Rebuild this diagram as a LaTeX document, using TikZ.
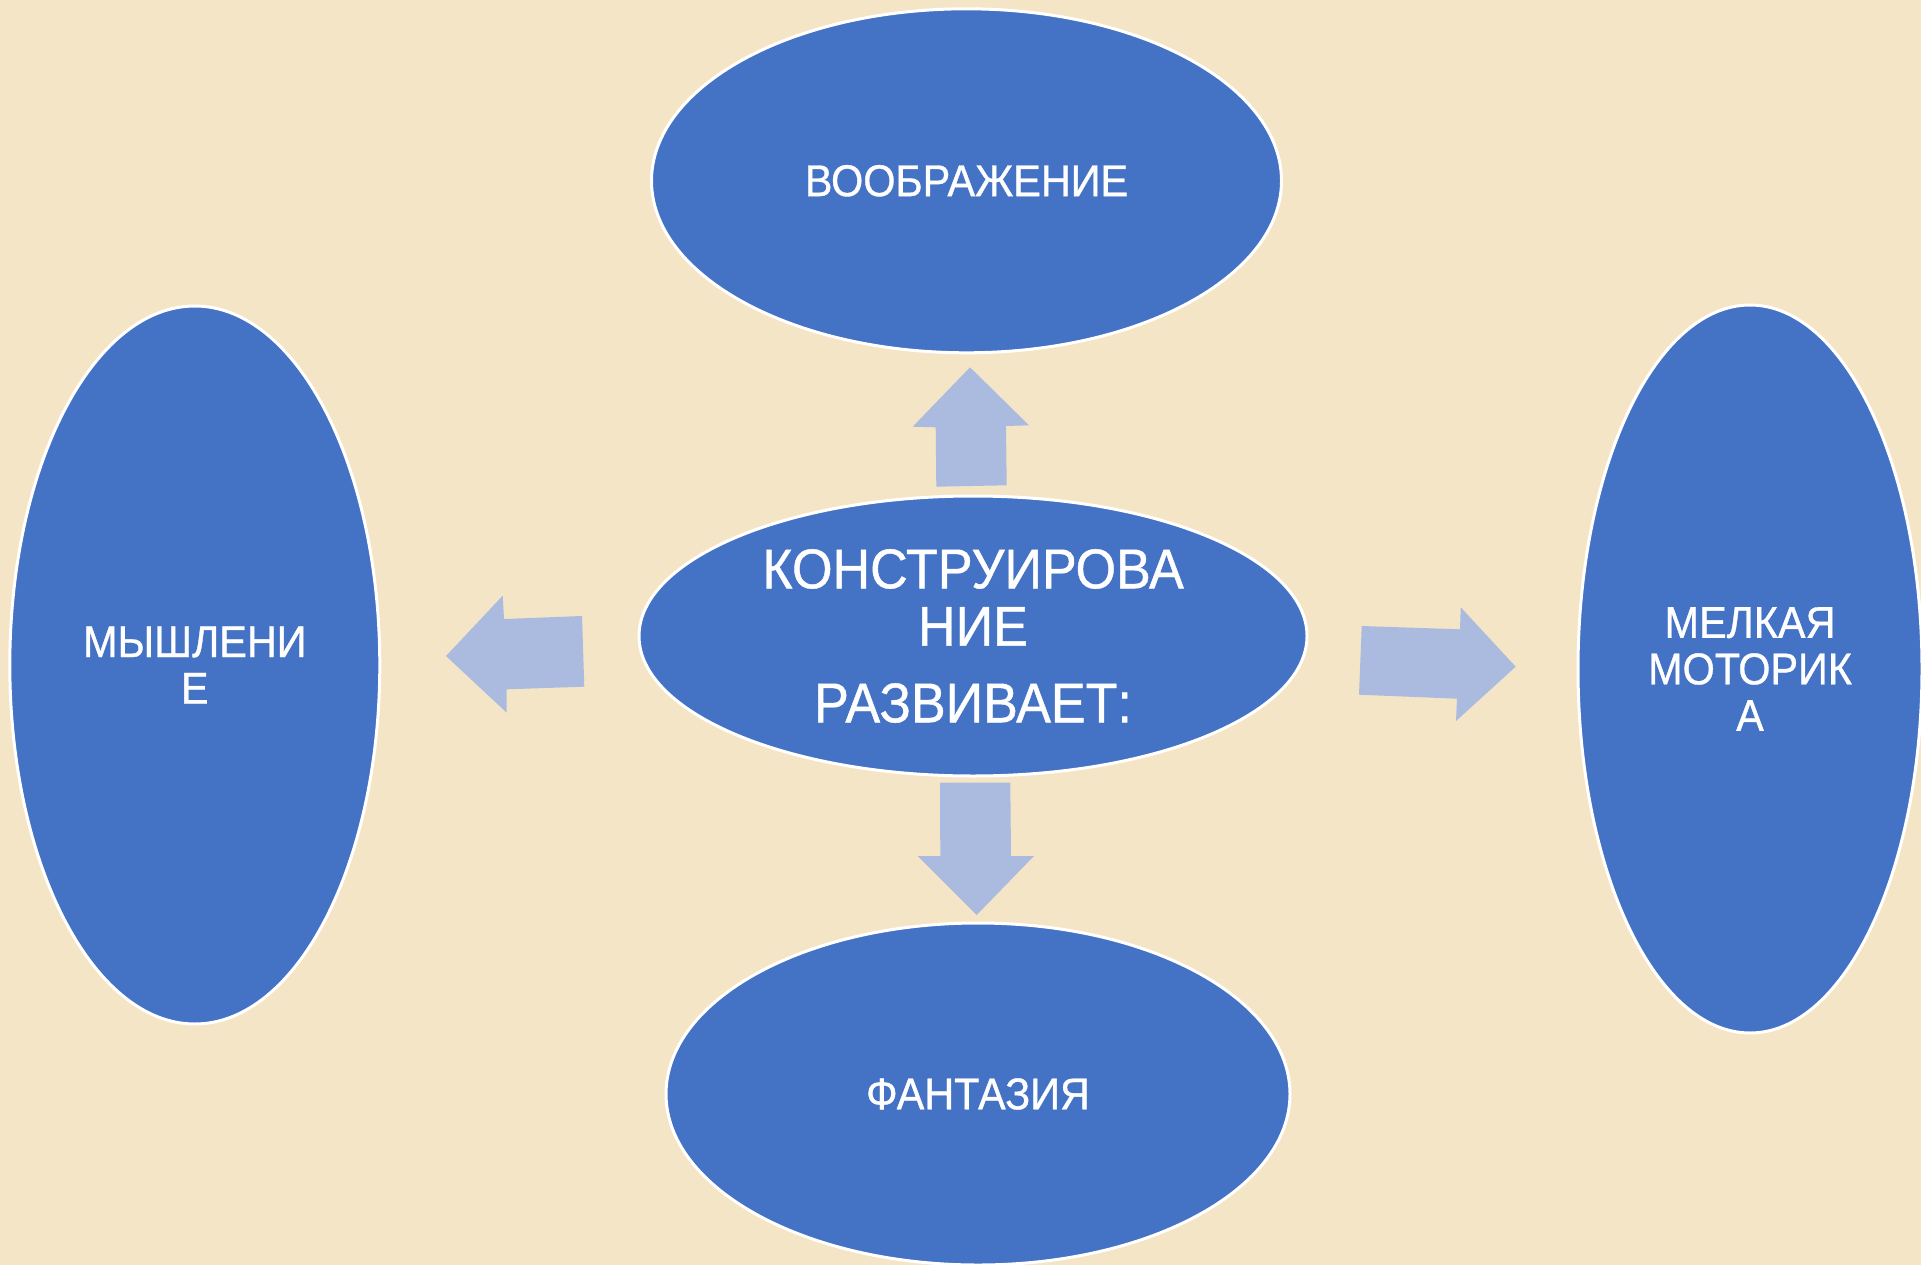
\documentclass[tikz,border=0pt]{standalone}
\usepackage{fontspec}
\setmainfont{Liberation Sans}[FakeStretch=0.93,FakeBold=0.8]
\usetikzlibrary{shapes.geometric}
\definecolor{bg}{HTML}{F4E5C6}
\definecolor{blobc}{HTML}{4472C4}
\definecolor{arrc}{HTML}{ABBBE0}
\begin{document}
\begin{tikzpicture}[x=1pt,y=-1pt,
  oval/.style={ellipse, fill=blobc, draw=white, line width=3pt, text=white,
    align=center, inner sep=0pt, font=\fontsize{44.5}{46.5}\selectfont},
  blockarrow/.style={fill=arrc}]
\fill[bg] (0,0) rectangle (1921,1265);
\useasboundingbox (0,0) rectangle (1921,1265);

\node[oval, minimum width=630pt, minimum height=344pt] (top) at (966.5,180.8) {ВООБРАЖЕНИЕ};
\node[oval, minimum width=370pt, minimum height=718pt] (left) at (194.8,665) {МЫШЛЕНИ\\Е};
\node[oval, minimum width=344pt, minimum height=728pt] (right) at (1750,669) {МЕЛКАЯ\\МОТОРИК\\А};
\node[oval, minimum width=624pt, minimum height=342pt] (bottom) at (978,1094) {ФАНТАЗИЯ};
\node[oval, minimum width=668pt, minimum height=280pt, font=\fontsize{56}{57.4}\selectfont] (center) at (973,636) {КОНСТРУИРОВА\\НИЕ\\[19.2pt]РАЗВИВАЕТ:};

\fill[blockarrow] (936.3,486.7) -- (935.7,427.3) -- (912.7,426.7) -- (970,367.3) -- (1029,425.3) -- (1006,426) -- (1006.7,485.3) -- cycle;
\fill[blockarrow] (940,782.7) -- (1010.3,782.7) -- (1011,856) -- (1034,856) -- (976.7,915) -- (917.7,856) -- (940.3,856) -- cycle;
\fill[blockarrow] (584.3,686.7) -- (582,616) -- (504,619) -- (502.7,595.7) -- (446,656) -- (506.7,712.7) -- (506.7,689.3) -- cycle;
\fill[blockarrow] (1361.7,626) -- (1460,629.3) -- (1460.7,607.3) -- (1515.7,666.7) -- (1456,721) -- (1457,698.7) -- (1359,694.7) -- cycle;
\end{tikzpicture}
\end{document}
